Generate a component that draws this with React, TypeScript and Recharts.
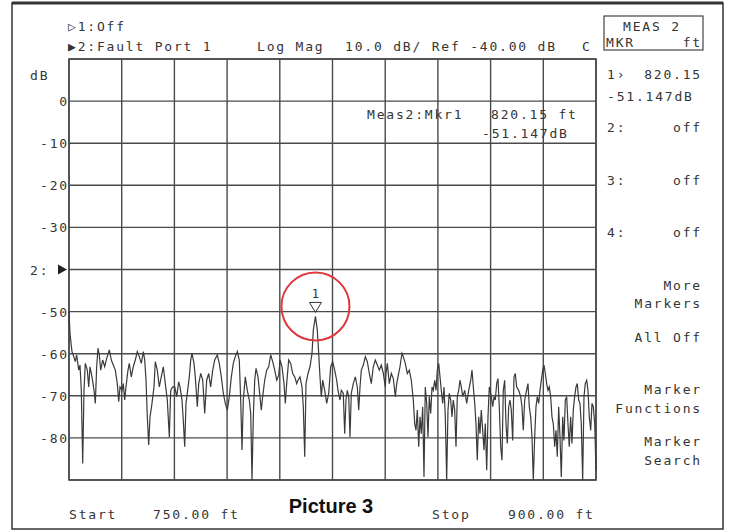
import React from "react";
import { LineChart, Line, XAxis, YAxis, CartesianGrid, ReferenceDot, ReferenceArea } from "recharts";

// Fault location trace: [distance ft, level dB]
const traceSeg1: [number, number][] = [
  [750.0, -50.0], [750.28, -55.2], [750.85, -59.5], [751.22, -60.3], [751.79, -61.9], [752.19, -60.3], [752.76, -63.9], [753.13, -62.7],
  [753.5, -68.7], [753.9, -86.1], [754.27, -68.7], [754.64, -62.3], [755.21, -63.9], [755.61, -67.9], [755.98, -63.1], [756.55, -65.5],
  [757.12, -68.7], [757.49, -71.8], [757.88, -63.1], [758.25, -58.7], [758.62, -60.3], [759.02, -63.9], [759.59, -61.5], [760.16, -63.1],
  [760.73, -61.1], [761.47, -59.1], [762.04, -61.5], [762.61, -62.7], [763.18, -63.9], [763.75, -67.1], [764.15, -71.4], [764.52, -67.9],
  [765.09, -68.7], [765.46, -67.1], [765.85, -71.0], [766.22, -67.9], [766.79, -63.9], [767.16, -62.3], [767.73, -65.5], [768.3, -63.1],
  [768.87, -61.5], [769.44, -59.5], [770.01, -60.7], [770.58, -62.3], [771.15, -59.5], [771.55, -61.5], [771.92, -66.3], [772.29, -75.0],
  [772.68, -81.7], [773.06, -75.0], [773.62, -71.8], [774.19, -67.9], [774.56, -61.9], [775.13, -63.9], [775.7, -67.9], [776.27, -65.5],
  [776.84, -63.1], [777.41, -67.1], [777.98, -71.0], [778.55, -79.8], [778.95, -68.7], [779.52, -67.9],
];
const traceSeg2: [number, number][] = [
  [780.09, -67.9], [780.65, -70.2], [781.22, -66.7], [781.59, -67.9], [782.16, -71.0], [782.53, -75.8], [782.93, -82.1], [783.3, -71.8],
  [783.67, -69.4], [784.24, -65.5], [784.64, -61.5], [785.01, -59.9], [785.58, -62.3], [785.95, -65.5], [786.52, -72.6], [786.92, -67.1],
  [787.49, -64.7], [788.06, -66.3], [788.62, -74.2], [789.19, -66.3], [789.76, -64.7], [790.33, -67.9], [790.9, -63.9], [791.47, -61.5],
  [792.21, -60.3], [792.78, -62.3], [793.35, -65.5], [793.92, -69.4], [794.49, -71.8], [795.06, -73.4], [795.63, -70.2], [796.2, -65.5],
  [796.77, -62.3], [797.33, -60.7], [797.9, -59.5], [798.47, -61.5], [798.87, -71.0], [799.24, -82.9], [799.61, -71.0], [800.18, -65.5],
  [800.75, -68.7], [801.32, -71.0], [801.72, -74.2], [802.09, -90.0], [802.46, -75.0], [802.86, -66.3], [803.23, -63.5], [803.8, -65.5],
  [804.36, -70.2], [804.73, -73.4], [805.13, -70.2], [805.7, -66.3], [806.27, -63.9], [806.84, -63.1], [807.41, -60.3], [807.98, -61.9],
  [808.55, -63.9], [809.12, -66.3], [809.69, -65.1],
];
const traceSeg3: [number, number][] = [
  [810.06, -61.5], [810.63, -63.1], [811.2, -67.1], [811.57, -71.8], [811.96, -67.1], [812.53, -61.5], [813.1, -62.3], [813.67, -64.7],
  [814.24, -65.5], [814.81, -67.1], [815.18, -66.3], [815.75, -65.5], [816.32, -67.9], [816.69, -72.6], [817.09, -84.5], [817.46, -67.1],
  [818.03, -64.7], [818.6, -63.1], [819.17, -59.9], [819.54, -54.4], [820.15, -51.15], [820.67, -54.4], [821.07, -59.9], [821.44, -65.5],
  [821.81, -70.2], [822.21, -66.3], [822.78, -68.7], [823.35, -71.8], [823.92, -69.4], [824.49, -63.1], [825.05, -61.9], [825.62, -63.9],
  [826.19, -66.3], [826.56, -68.7], [827.13, -71.0], [827.5, -68.7], [828.07, -69.4], [828.47, -79.0], [828.84, -71.0], [829.21, -68.7],
  [829.61, -70.2], [829.98, -79.8], [830.35, -69.4], [830.92, -67.1], [831.49, -65.5], [832.06, -67.9], [832.46, -73.4], [832.83, -67.9],
  [833.2, -63.9], [833.77, -62.7], [834.34, -60.7], [834.91, -61.9], [835.48, -64.7], [836.04, -67.1], [836.61, -63.1], [837.18, -61.5],
  [837.75, -62.7], [838.32, -63.9], [838.89, -62.7], [839.46, -64.7], [840.03, -67.9],
];
const traceSeg4: [number, number][] = [
  [840.23, -64.7], [840.6, -62.3], [841.17, -67.1], [841.74, -64.7], [842.31, -65.9], [842.88, -70.2], [843.28, -67.1], [843.64, -65.5],
  [844.21, -63.1], [844.78, -59.9], [845.15, -60.7], [845.72, -62.3], [846.29, -64.7], [846.86, -63.9], [847.43, -66.3], [848.0, -71.0],
  [848.4, -76.6], [848.77, -78.2], [849.14, -73.4], [849.54, -82.1], [849.91, -75.0], [850.27, -79.0], [850.67, -72.6], [851.04, -89.3],
  [851.41, -67.9], [851.81, -71.8], [852.18, -79.8], [852.55, -70.2], [852.95, -74.2], [853.32, -67.9], [853.69, -68.7], [854.09, -66.3],
  [854.46, -68.7], [854.83, -63.9], [855.23, -62.3], [855.6, -65.5], [855.97, -68.7], [856.37, -71.8], [856.74, -67.9], [857.11, -75.0],
  [857.5, -90.0], [857.87, -73.4], [858.24, -69.4], [858.64, -71.0], [859.01, -75.0], [859.38, -71.0], [859.78, -73.4], [860.15, -82.1],
  [860.52, -70.2], [860.92, -68.7], [861.29, -66.3], [861.66, -67.9], [862.06, -70.2], [862.63, -68.7], [863.2, -71.8], [863.77, -68.7],
  [864.34, -66.3], [864.71, -63.9], [865.08, -67.9], [865.48, -71.8], [865.84, -76.6], [866.21, -85.3], [866.61, -75.0], [866.98, -79.0],
  [867.35, -73.4], [867.75, -78.2], [868.12, -82.9], [868.49, -76.6], [868.89, -87.7], [869.26, -75.0], [869.63, -67.9],
];
const traceSeg5: [number, number][] = [
  [869.83, -68.7], [870.2, -70.2], [870.6, -72.6], [870.97, -70.2], [871.34, -71.0], [871.73, -67.1], [872.1, -65.9], [872.47, -72.6],
  [872.87, -82.1], [873.24, -85.3], [873.61, -68.7], [874.01, -66.3], [874.38, -76.6], [874.75, -81.3], [875.15, -72.6], [875.52, -71.0],
  [875.89, -73.4], [876.29, -80.6], [876.66, -65.5], [877.03, -64.7], [877.42, -67.9], [877.99, -68.7], [878.56, -70.2], [878.93, -72.6],
  [879.3, -78.2], [879.7, -71.0], [880.07, -69.4], [880.64, -67.1], [881.01, -72.6], [881.41, -75.0], [881.78, -79.8], [882.15, -90.0],
  [882.55, -79.8], [882.92, -72.6], [883.29, -70.2], [883.69, -71.8], [884.06, -68.7], [884.43, -66.3], [884.83, -63.9], [885.2, -62.7],
  [885.57, -64.7], [885.96, -67.1], [886.33, -68.7], [886.7, -67.9], [887.1, -70.2], [887.47, -75.0], [887.84, -76.6], [888.24, -82.1],
  [888.61, -78.2], [888.98, -84.5], [889.38, -72.6], [889.75, -79.8], [890.12, -89.3], [890.52, -75.0], [890.89, -80.6], [891.26, -71.0],
  [891.65, -70.2], [892.02, -76.6], [892.39, -82.1], [892.79, -75.0], [893.16, -81.3], [893.53, -73.4], [893.93, -70.2], [894.3, -67.9],
  [894.67, -67.1], [895.07, -71.0], [895.44, -71.8], [895.81, -76.6], [896.21, -90.0], [896.58, -70.2], [896.95, -67.1], [897.35, -66.3],
  [897.72, -68.7], [898.09, -75.0], [898.49, -78.2], [898.86, -71.8], [899.23, -72.6], [899.63, -76.6], [900.0, -87.7],
];

const xGridFt = [750, 765, 780, 795, 810, 825, 840, 855, 870, 885, 900];
const yGridDb = [10, 0, -10, -20, -30, -40, -50, -60, -70, -80, -90];
const yTickDb = [0, -10, -20, -30, -40, -50, -60, -70, -80];
const marker = { ft: 820.15, db: -51.147 };

const data = [...traceSeg1, ...traceSeg2, ...traceSeg3, ...traceSeg4, ...traceSeg5].map(([ft, db]) => ({ ft, db }));

const MONO: React.CSSProperties = { fontFamily: "'DejaVu Sans Mono', monospace", fontSize: 13, letterSpacing: 1.8 };
const INK = "#353535";

const YTick = (props: any) => {
  const { y, payload } = props;
  if (payload.value === -40) {
    return (
      <g>
        <text x={30} y={y + 5} style={MONO} fill={INK}>2:</text>
        <polygon points={`58,${y - 5} 67,${y} 58,${y + 5}`} fill="#222" />
      </g>
    );
  }
  return (
    <text x={69} y={y + 5} textAnchor="end" style={MONO} fill={INK}>
      {payload.value}
    </text>
  );
};

const MarkerShape = (props: any) => {
  const { cx, cy } = props;
  return (
    <g>
      <polygon points={`${cx - 6},${cy - 14} ${cx + 6},${cy - 14} ${cx},${cy - 4}`} fill="none" stroke="#333" strokeWidth={1} />
      <text x={cx} y={cy - 18} textAnchor="middle" style={{ ...MONO, letterSpacing: 0, fontSize: 12 }} fill={INK}>1</text>
      <circle cx={cx} cy={cy - 10} r={34} fill="none" stroke="#e0373c" strokeWidth={2} />
    </g>
  );
};

const T = ({ x, y, children, end }: { x: number; y: number; children: React.ReactNode; end?: boolean }) => (
  <text x={x} y={y} textAnchor={end ? "end" : "start"} style={MONO} fill={INK}>{children}</text>
);

export default function App() {
  return (
    <div style={{ position: "fixed", left: 0, top: 0, width: 729, height: 531, background: "#fff" }}>
      <LineChart width={729} height={531} data={data} margin={{ top: 59, right: 133, bottom: 51, left: 9 }}>
        <XAxis dataKey="ft" type="number" domain={[750, 900]} ticks={xGridFt} hide />
        <YAxis
          type="number"
          domain={[-90, 10]}
          ticks={yTickDb}
          width={60}
          axisLine={false}
          tickLine={false}
          tick={<YTick />}
          interval={0}
        />
        <CartesianGrid horizontalValues={yGridDb} verticalValues={xGridFt} stroke="#4a4a4a" strokeWidth={1.4} />
        <ReferenceArea x1={750} x2={900} y1={-90} y2={10} fill="none" stroke="#4a4a4a" strokeWidth={1.6} ifOverflow="visible" />
        <Line dataKey="db" type="linear" stroke="#3a3a3a" strokeWidth={1.2} dot={false} isAnimationActive={false} />
        <ReferenceDot x={marker.ft} y={marker.db} shape={<MarkerShape />} ifOverflow="visible" />
      </LineChart>
      <svg width={729} height={531} style={{ position: "absolute", left: 0, top: 0, pointerEvents: "none" }}>
        <rect x={12} y={3} width={711} height={526} fill="none" stroke="#333" strokeWidth={1.5} />
        <line x1={12} y1={3} x2={723} y2={3} stroke="#333" strokeWidth={3} />
        <T x={68} y={31}>▷1:Off</T>
        <T x={68} y={51}>▶2:Fault Port 1</T>
        <T x={257} y={51}>Log Mag</T>
        <T x={345} y={51}>10.0 dB/ Ref -40.00 dB</T>
        <T x={582} y={51}>C</T>
        <T x={30} y={80}>dB</T>
        <rect x={604} y={16} width={99} height={34} fill="none" stroke="#444" strokeWidth={1.2} />
        <T x={623} y={31}>MEAS 2</T>
        <T x={606} y={47}>MKR</T>
        <T x={702} y={47} end>ft</T>
        <T x={607} y={79}>1›</T>
        <T x={702} y={79} end>820.15</T>
        <T x={607} y={101}>-51.147dB</T>
        <T x={607} y={132}>2:</T>
        <T x={702} y={132} end>off</T>
        <T x={607} y={185}>3:</T>
        <T x={702} y={185} end>off</T>
        <T x={607} y={237}>4:</T>
        <T x={702} y={237} end>off</T>
        <T x={702} y={290} end>More</T>
        <T x={702} y={308} end>Markers</T>
        <T x={702} y={342} end>All Off</T>
        <T x={702} y={394} end>Marker</T>
        <T x={702} y={413} end>Functions</T>
        <T x={702} y={446} end>Marker</T>
        <T x={702} y={465} end>Search</T>
        <T x={367} y={119}>Meas2:Mkr1</T>
        <T x={491} y={119}>820.15 ft</T>
        <T x={482} y={138}>-51.147dB</T>
        <T x={69} y={519}>Start</T>
        <T x={153} y={519}>750.00 ft</T>
        <T x={432} y={519}>Stop</T>
        <T x={508} y={519}>900.00 ft</T>
        <text x={331} y={513} textAnchor="middle" style={{ fontFamily: "'Liberation Sans', Arial, sans-serif", fontWeight: 700, fontSize: 20 }} fill="#111">
          Picture 3
        </text>
      </svg>
    </div>
  );
}
